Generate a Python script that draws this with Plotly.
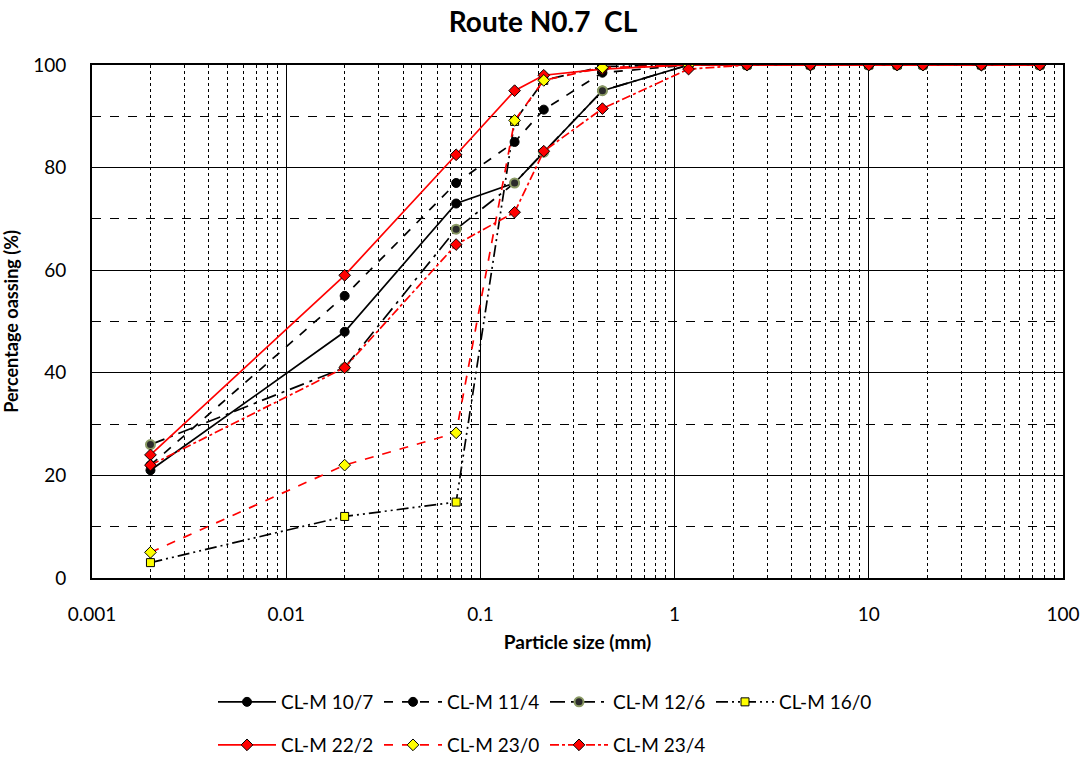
import plotly.graph_objects as go

sizes = [0.002, 0.02, 0.075, 0.15, 0.212, 0.425, 1.18, 2.36, 5, 10, 14, 19, 38, 76]

cl_m_10_7 = [21, 48, 73, 77, 83, 95, 100, 100, 100, 100, 100, 100, 100, 100]
cl_m_11_4 = [22, 55, 77, 85, 91.3, 98.5, 100, 100, 100, 100, 100, 100, 100, 100]
cl_m_12_6 = [26, 41, 68, 77, 83, 95, 100, 100, 100, 100, 100, 100, 100, 100]
cl_m_16_0 = [3, 12, 14.8, 89, 97, 99.7, 100, 100, 100, 100, 100, 100, 100, 100]
cl_m_22_2 = [24, 59, 82.5, 95, 98, 99.2, 100, 100, 100, 100, 100, 100, 100, 100]
cl_m_23_0 = [5, 22, 28.3, 89.2, 97, 99.5, 100, 100, 100, 100, 100, 100, 100, 100]
cl_m_23_4 = [22, 41, 65, 71.3, 83.2, 91.5, 99.2, 100, 100, 100, 100, 100, 100, 100]

x_tick_vals = [0.001, 0.01, 0.1, 1, 10, 100]
x_tick_text = ["0.001", "0.01", "0.1", "1", "10", "100"]
minor_vals = [m * 10 ** e for e in range(-3, 2) for m in range(2, 10)]

FONT = "Lato"

series = [
    ("CL-M 10/7", cl_m_10_7, "black", "solid", "circle", "black", "black", 1, "legend"),
    ("CL-M 11/4", cl_m_11_4, "black", "dash", "circle", "black", "black", 1, "legend"),
    ("CL-M 12/6", cl_m_12_6, "black", "longdashdot", "circle", "#2b2b2b", "#8a9a64", 2, "legend"),
    ("CL-M 16/0", cl_m_16_0, "black", "12px,4px,2px,4px,2px,4px", "square", "#ffff00", "black", 1, "legend"),
    ("CL-M 22/2", cl_m_22_2, "#ff0000", "solid", "diamond", "#ff0000", "black", 1, "legend2"),
    ("CL-M 23/0", cl_m_23_0, "#ff0000", "dash", "diamond", "#ffff00", "black", 1, "legend2"),
    ("CL-M 23/4", cl_m_23_4, "#ff0000", "dashdot", "diamond", "#ff0000", "black", 1, "legend2"),
]

fig = go.Figure()
for name, ys, lc, dash, sym, mc, mlc, mlw, lg in series:
    fig.add_trace(go.Scatter(
        x=sizes, y=ys, name=name, mode="lines+markers",
        line=dict(color=lc, width=1.7, dash=dash),
        marker=dict(symbol=sym, size=9 if sym != "square" else 8, color=mc,
                    line=dict(color=mlc, width=mlw)),
        legend=lg,
    ))

fig.update_layout(
    width=1086, height=757,
    margin=dict(l=92, r=23, t=65, b=179, autoexpand=False),
    paper_bgcolor="white", plot_bgcolor="white",
    font=dict(family=FONT, color="black", size=15),
    title=dict(text="<b>Route N0.7  CL</b>", x=0.5, xanchor="center",
               y=1 - 22 / 757, yanchor="middle",
               font=dict(size=28, family=FONT, color="black")),
    xaxis=dict(
        type="log", range=[-3, 2], automargin=False,
        tickmode="array", tickvals=x_tick_vals, ticktext=x_tick_text,
        showgrid=True, gridcolor="black", gridwidth=1.2,
        showline=True, linecolor="black", linewidth=2, mirror=True,
        ticks="", ticklabelstandoff=18, tickfont=dict(size=19, family=FONT),
        minor=dict(tickmode="array", tickvals=minor_vals, showgrid=True,
                   gridcolor="black", griddash="dot", gridwidth=1),
        title=dict(text="<b>Particle size (mm)</b>", font=dict(size=19, family=FONT), standoff=12),
        zeroline=False,
    ),
    yaxis=dict(
        range=[0, 100], dtick=20, tick0=0, automargin=False,
        showgrid=True, gridcolor="black", gridwidth=1.2,
        showline=True, linecolor="black", linewidth=2, mirror=True,
        ticks="", ticklabelstandoff=20, tickfont=dict(size=19, family=FONT),
        minor=dict(dtick=10, showgrid=True, gridcolor="black", griddash="dash", gridwidth=1),
        title=dict(text="<b>Percentage oassing (%)</b>", font=dict(size=18, family=FONT), standoff=20),
        zeroline=False,
    ),
    legend=dict(orientation="h", x=(213 - 92) / 971, xanchor="left", y=(578 - 702) / 513, yanchor="middle",
                entrywidth=93, entrywidthmode="pixels", itemwidth=58,
                font=dict(size=19, family=FONT),
                bgcolor="rgba(0,0,0,0)", tracegroupgap=0),
    legend2=dict(orientation="h", x=(213 - 92) / 971, xanchor="left", y=(578 - 745) / 513, yanchor="middle",
                 entrywidth=93, entrywidthmode="pixels", itemwidth=58,
                 font=dict(size=19, family=FONT),
                 bgcolor="rgba(0,0,0,0)", tracegroupgap=0),
)

fig.write_html("out.html", config={"displayModeBar": False},
               post_script="document.body.style.margin='0';document.body.style.padding='0';")
